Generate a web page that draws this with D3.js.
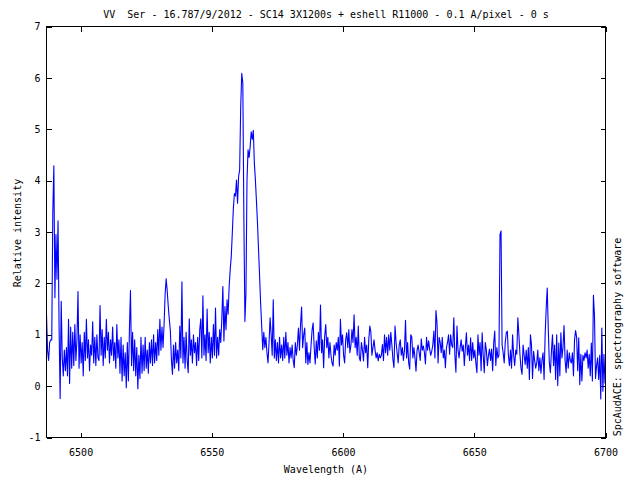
<!DOCTYPE html>
<html><head><meta charset="utf-8">
<script src="https://cdn.jsdelivr.net/npm/d3@7"></script>
<style>
body{margin:0;background:#fff}
text{font-family:"DejaVu Sans Mono","Liberation Mono",monospace;font-size:10px;fill:#000}
</style>
</head><body>
<svg id="chart" width="640" height="480"></svg>
<script>
const titleText = "VV  Ser - 16.787/9/2012 - SC14 3X1200s + eshell R11000 - 0.1 A/pixel - 0 s";
const xLabel = "Wavelength (A)";
const yLabel = "Relative intensity";
const sideLabel = "SpcAudACE: spectrography software";
const xTicks = [6500, 6550, 6600, 6650, 6700];
const yTicks = [-1, 0, 1, 2, 3, 4, 5, 6, 7];
const xDomain = [6487, 6700];
const yDomain = [-1, 7];
const wavelengthStart = 6487.0;
const wavelengthStep = 0.4;
const intensity = [
/*6487*/ 1.40,0.70,0.50,0.85,0.90,0.90,3.37,4.29,1.72,2.95,2.08,3.22,1.12,-0.24,1.65,0.55,0.20,0.70,0.30,0.75,0.20,1.30,0.05,1.15,0.35,
/*6497*/ 1.05,0.40,1.20,0.50,0.90,1.84,0.35,1.00,0.45,0.85,0.20,1.05,0.50,1.30,0.55,0.90,0.30,0.80,0.60,1.25,0.45,0.95,0.40,1.00,0.55,
/*6507*/ 0.50,1.57,0.60,1.10,0.40,0.95,0.55,1.30,0.70,1.05,0.45,0.90,0.60,1.15,0.50,0.85,0.35,1.20,0.55,0.90,0.25,0.95,0.10,0.80,0.20,
/*6517*/ 0.65,-0.03,0.85,0.10,1.10,1.86,0.40,1.05,0.30,0.90,0.20,0.75,-0.05,0.60,0.15,0.95,0.25,0.80,0.30,0.95,0.35,0.70,0.25,0.85,0.45,
/*6527*/ 0.90,0.40,1.00,0.45,0.85,0.50,1.10,0.60,1.30,0.70,1.15,0.75,1.20,1.79,2.09,1.85,1.55,1.30,1.07,0.52,0.23,0.80,0.35,0.85,0.45,
/*6537*/ 0.70,0.30,1.17,0.55,2.03,0.45,0.95,0.35,1.05,0.50,0.26,1.31,0.60,0.90,0.45,1.00,0.65,0.85,0.40,0.95,0.50,1.10,1.31,0.55,1.76,
/*6547*/ 0.60,1.00,0.50,1.50,0.65,1.05,0.45,0.95,0.55,1.20,0.60,1.52,0.55,0.95,0.60,1.10,0.85,1.30,1.94,0.88,1.55,1.10,1.68,1.40,1.94,
/*6557*/ 2.27,2.52,2.98,3.46,3.75,3.70,4.01,3.56,4.08,4.21,5.44,6.09,5.90,3.30,1.26,1.81,4.01,4.60,4.45,4.66,4.95,4.80,4.98,4.34,4.01,
/*6567*/ 3.60,3.17,2.65,2.14,1.60,1.17,0.71,1.05,0.75,0.95,0.65,0.45,0.85,1.33,1.00,0.60,1.68,0.55,0.90,0.50,0.85,0.45,0.95,0.55,0.80,
/*6577*/ 0.50,0.95,0.55,1.05,0.60,0.85,0.45,0.75,0.55,0.80,0.50,0.36,0.85,0.60,0.80,1.13,0.70,1.20,1.54,0.75,1.00,1.13,0.45,0.85,0.42,
/*6587*/ 0.65,0.45,0.80,1.09,1.23,0.75,0.43,0.88,0.55,1.05,0.70,1.58,0.65,0.90,0.36,0.97,1.20,0.75,0.95,0.55,0.85,0.60,0.45,0.39,0.80,
/*6597*/ 0.60,0.85,0.70,0.95,0.39,1.30,0.80,1.00,0.60,0.45,0.90,1.04,0.75,1.10,0.65,0.80,1.10,0.85,1.39,0.75,0.95,0.60,1.17,0.55,0.49,
/*6607*/ 0.85,0.70,0.49,0.95,0.65,0.80,0.36,0.90,1.17,1.05,0.60,0.75,0.90,0.70,0.55,0.65,0.49,0.62,0.55,0.60,0.81,0.50,1.00,0.65,0.95,
/*6617*/ 0.60,1.00,0.70,1.05,0.80,0.52,0.36,1.17,0.85,0.65,0.45,0.80,0.90,0.60,0.75,0.50,0.70,1.28,0.55,0.85,0.45,0.33,1.00,0.95,0.55,
/*6627*/ 0.75,0.55,0.29,0.70,0.80,0.65,0.50,0.92,0.70,0.78,0.65,0.43,0.95,0.70,0.88,0.72,0.60,0.68,0.80,1.07,0.55,1.47,1.23,0.45,0.95,
/*6637*/ 0.85,0.65,0.95,0.55,0.70,0.36,0.75,0.85,1.00,0.62,1.00,0.80,0.75,1.33,0.60,0.27,1.17,0.70,0.55,0.75,0.90,0.68,0.80,0.40,0.75,
/*6647*/ 1.04,0.60,0.80,0.50,0.94,0.50,0.85,0.55,0.70,0.45,0.26,1.00,0.60,0.85,0.30,1.04,0.60,0.26,0.85,0.70,0.40,0.60,0.72,0.50,0.72,
/*6657*/ 0.30,0.84,1.07,0.40,0.75,0.55,0.60,2.95,3.02,0.80,0.65,0.45,0.85,1.04,1.07,0.60,0.40,0.70,0.35,1.00,0.60,0.40,0.70,0.62,1.33,
/*6667*/ 1.00,0.62,0.35,0.23,0.80,0.60,0.42,0.70,0.35,0.75,0.13,1.00,0.80,0.15,0.68,0.50,0.35,0.45,0.70,0.30,0.55,0.25,0.50,0.65,0.13,
/*6677*/ 1.00,1.51,1.91,1.10,0.45,0.26,0.68,1.00,0.40,0.80,0.13,1.00,0.01,0.84,0.20,1.04,0.55,0.75,1.18,0.50,0.26,0.70,0.35,0.65,0.50,
/*6687*/ 0.45,0.65,0.20,0.90,1.08,0.95,0.30,0.94,0.03,0.62,0.10,0.60,0.50,0.65,0.55,0.70,0.35,0.62,0.20,0.84,0.10,1.77,1.37,0.15,0.40,
/*6697*/ 0.55,0.13,0.60,-0.25,1.13,-0.10,0.62,0.05
];

const spectrum = intensity.map((v, i) => ({ w: wavelengthStart + i * wavelengthStep, v: v }));

const svg = d3.select("#chart");
const L = 46.5, R = 605.5, T = 26.5, B = 437.5;

const x = d3.scaleLinear().domain(xDomain).range([L, R]);
const y = d3.scaleLinear().domain(yDomain).range([B, T]);

const gB = svg.append("g").attr("transform", `translate(0,${B})`)
  .call(d3.axisBottom(x).tickValues(xTicks).tickFormat(d3.format("d")).tickSizeInner(-5).tickSizeOuter(0).tickPadding(11));
const gT = svg.append("g").attr("transform", `translate(0,${T})`)
  .call(d3.axisTop(x).tickValues(xTicks).tickFormat("").tickSizeInner(-5).tickSizeOuter(0));
const gL = svg.append("g").attr("transform", `translate(${L},0)`)
  .call(d3.axisLeft(y).tickValues(yTicks).tickFormat(d => d < 0 ? "-" + Math.abs(d) : d).tickSizeInner(-5).tickSizeOuter(0).tickPadding(6));
const gR = svg.append("g").attr("transform", `translate(${R},0)`)
  .call(d3.axisRight(y).tickValues(yTicks).tickFormat("").tickSizeInner(-5).tickSizeOuter(0));

[gB, gT, gL, gR].forEach(g => {
  g.select(".domain").remove();
  g.selectAll(".tick line").attr("stroke", "#000").attr("shape-rendering", "crispEdges");
  g.selectAll("text").attr("font-family", null).attr("font-size", null).attr("fill", "#000");
});
gB.selectAll("text").attr("dy", "0.71em");

const line = d3.line().x(d => x(d.w)).y(d => y(d.v));
svg.append("path").datum(spectrum)
  .attr("d", line)
  .attr("fill", "none")
  .attr("stroke", "#0000ff")
  .attr("stroke-width", 1.1)
  .attr("stroke-linejoin", "round");

svg.append("rect")
  .attr("x", L).attr("y", T).attr("width", R - L).attr("height", B - T)
  .attr("fill", "none").attr("stroke", "#000").attr("stroke-width", 1)
  .attr("shape-rendering", "crispEdges");

svg.append("text").attr("x", 326).attr("y", 18).attr("text-anchor", "middle")
  .style("white-space", "pre").text(titleText);
svg.append("text").attr("x", 326).attr("y", 473).attr("text-anchor", "middle").text(xLabel);
svg.append("text").attr("transform", "translate(17,233) rotate(-90)")
  .attr("text-anchor", "middle").attr("dy", "0.35em").text(yLabel);
svg.append("text").attr("transform", "translate(617,337) rotate(-90)")
  .attr("text-anchor", "middle").attr("dy", "0.35em").text(sideLabel);
</script>
</body></html>
